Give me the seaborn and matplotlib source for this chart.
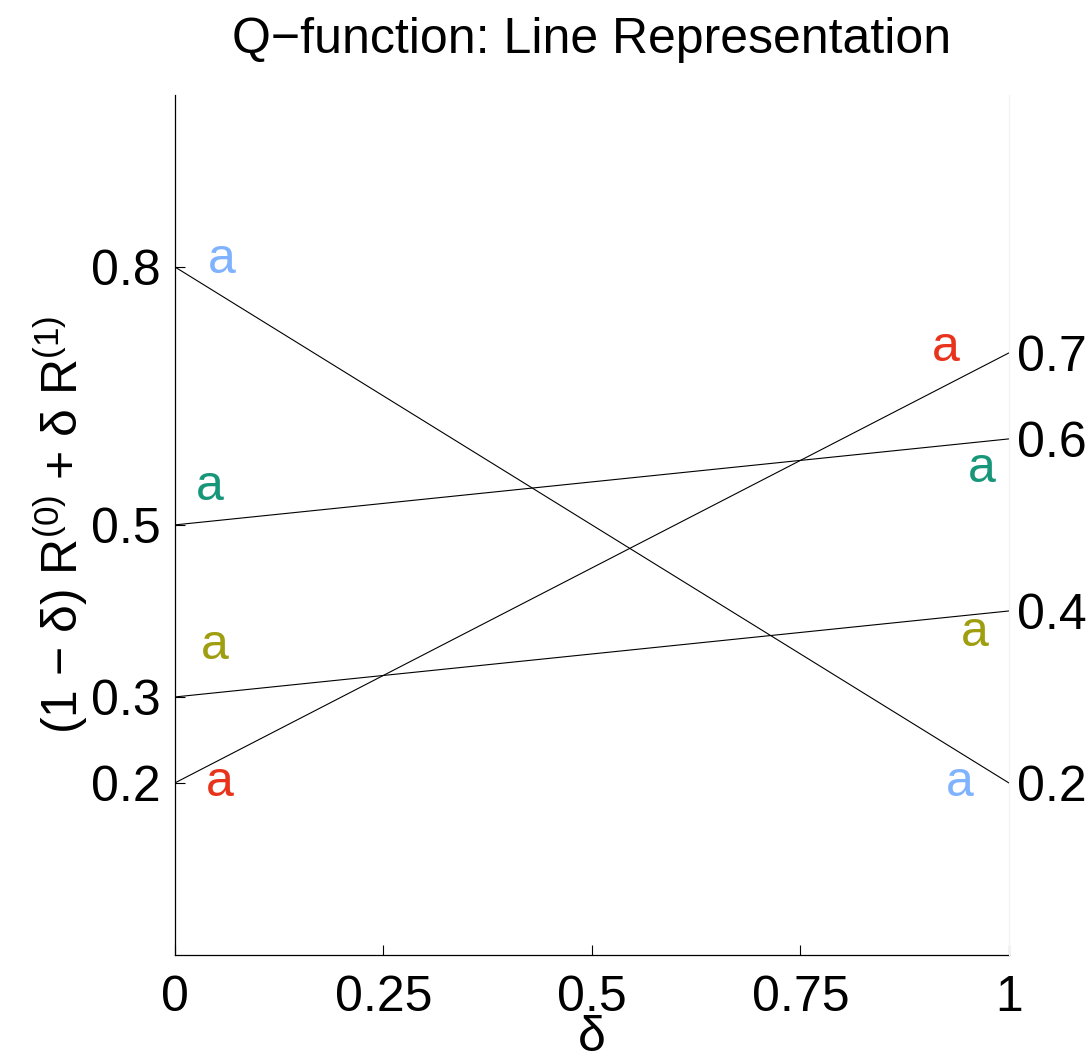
import matplotlib
matplotlib.use("Agg")
import matplotlib.pyplot as plt
import seaborn as sns
import pandas as pd

# Data
line_ids = ["A", "B", "C", "D"]
r0_values = [0.8, 0.5, 0.3, 0.2]      # value at delta = 0
r1_values = [0.2, 0.6, 0.4, 0.7]      # value at delta = 1
left_ticks = [0.2, 0.3, 0.5, 0.8]
right_ticks = [0.2, 0.4, 0.6, 0.7]
x_ticks = [0, 0.25, 0.5, 0.75, 1]
x_tick_labels = ["0", "0.25", "0.5", "0.75", "1"]

label_colors = ["#7FB2FF", "#18967A", "#9E9E10", "#E8341C"]
label_left_x = [0.056, 0.042, 0.048, 0.054]
label_left_y = [0.808, 0.544, 0.359, 0.200]
label_right_x = [0.941, 0.968, 0.959, 0.924]
label_right_y = [0.200, 0.565, 0.374, 0.706]

sns.set_theme(style="white")
plt.rcParams["font.family"] = ["Liberation Sans", "DejaVu Sans"]
plt.rcParams["mathtext.fontset"] = "custom"
plt.rcParams["mathtext.rm"] = "Liberation Sans"
plt.rcParams["mathtext.it"] = "Liberation Sans"
for k in ["text.color", "axes.labelcolor", "xtick.color", "ytick.color"]:
    plt.rcParams[k] = "black"

rows = []
for lid, a, b in zip(line_ids, r0_values, r1_values):
    rows.append({"line": lid, "delta": 0.0, "value": a})
    rows.append({"line": lid, "delta": 1.0, "value": b})
df = pd.DataFrame(rows)

fig = plt.figure(figsize=(10.92, 10.53), dpi=100)
ax = fig.add_axes([0.160, 0.093, 0.764, 0.817])

sns.lineplot(data=df, x="delta", y="value", units="line", estimator=None,
             color="black", linewidth=0.8, ax=ax, legend=False)

for c, x, y in zip(label_colors, label_left_x, label_left_y):
    ax.text(x, y, "a", color=c, fontsize=36, ha="center", va="center")
for c, x, y in zip(label_colors, label_right_x, label_right_y):
    ax.text(x, y, "a", color=c, fontsize=36, ha="center", va="center")

ax.set_xlim(0, 1)
ax.set_ylim(0, 1)
ax.set_xticks(x_ticks)
ax.set_xticklabels(x_tick_labels)
ax.set_yticks(left_ticks)
ax.set_yticklabels([f"{v:g}" for v in left_ticks])
ax.tick_params(axis="both", direction="in", length=7, width=0.8, color="black",
               labelsize=36, left=True, bottom=True)
ax.tick_params(axis="x", pad=14)
ax.tick_params(axis="y", pad=10)
for s in ["left", "bottom"]:
    ax.spines[s].set_color("black")
    ax.spines[s].set_linewidth(0.9)
ax.spines["top"].set_visible(False)
ax.spines["right"].set_visible(False)

ax.set_xlabel("δ", fontsize=36, labelpad=-4)
ax.set_ylabel("(1 − δ) R$^{(0)}$ + δ R$^{(1)}$", fontsize=36, labelpad=0)
ax.set_title("Q−function: Line Representation", fontsize=36, pad=30)

ax2 = ax.twinx()
ax2.set_ylim(0, 1)
ax2.set_yticks(right_ticks)
ax2.set_yticklabels([f"{v:g}" for v in right_ticks])
ax2.tick_params(axis="y", length=0, labelsize=36, pad=6)
for s in ["left", "top", "bottom"]:
    ax2.spines[s].set_visible(False)
ax2.spines["right"].set_color("#f2f2f2")
ax2.spines["right"].set_linewidth(0.8)

fig.savefig("out.png", dpi=100)
